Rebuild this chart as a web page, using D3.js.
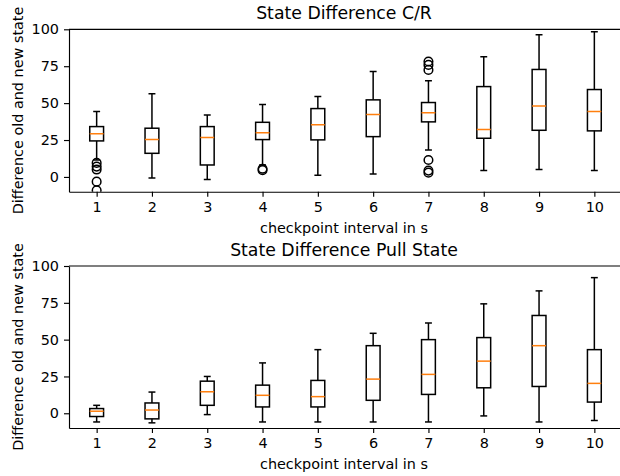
<!DOCTYPE html>
<html>
<head>
<meta charset="utf-8">
<script src="https://cdn.jsdelivr.net/npm/d3@7"></script>
<style>
  body { margin: 0; background: #fff; }
  svg text { font-family: "DejaVu Sans", sans-serif; }
</style>
</head>
<body>
<div id="chart"></div>
<script>
// checkpoint intervals (x categories)
var intervals = [1, 2, 3, 4, 5, 6, 7, 8, 9, 10];
var yTicks = [0, 25, 50, 75, 100];

// State Difference C/R
var crLow    = [11.5, -0.7, -1.8, 8.1, 1.1, 2.0, 18.3, 4.3, 5.0, 4.3];
var crQ1     = [24.4, 16.0, 8.1, 25.3, 25.1, 27.3, 37.3, 26.2, 31.6, 31.2];
var crMedian = [29.2, 25.3, 26.7, 30.0, 35.3, 42.3, 43.4, 32.1, 48.1, 44.3];
var crQ3     = [34.1, 33.0, 34.1, 37.0, 46.3, 52.2, 50.4, 61.2, 72.8, 59.2];
var crHigh   = [44.3, 56.3, 42.0, 49.0, 54.5, 71.4, 65.1, 81.4, 96.3, 98.3];
var crOutliers = [[9.5, 7, 5, -3.2, -9], [], [], [5.5, 4.6], [], [], [78.2, 75.9, 72.5, 11.5, 4.3, 2.9], [], [], []];

// State Difference Pull State
var pullLow    = [-5.9, -6.5, -0.9, -5.9, -5.9, -5.9, -5.9, -1.8, -5.9, -4.9];
var pullQ1     = [-2.2, -3.8, 5.4, 4.3, 4.3, 8.8, 12.8, 17.3, 18.2, 7.6];
var pullMedian = [1.4, 2.2, 14.6, 12.2, 11.3, 23.2, 26.4, 35.4, 45.9, 20.3];
var pullQ3     = [3.2, 7.0, 21.8, 19.1, 22.3, 45.9, 50.0, 51.4, 66.4, 43.2];
var pullHigh   = [5.4, 14.4, 25.0, 34.2, 43.2, 54.3, 61.3, 74.3, 83.1, 92.1];
var pullOutliers = [[], [], [], [], [], [], [], [], [], []];

var width = 620, height = 476;
var fontSize = 14.4;
var lw = 1.5;

var svg = d3.select("#chart").append("svg")
    .attr("width", width)
    .attr("height", height);

function toRows(low, q1, med, q3, high, outl) {
    return intervals.map(function(d, i) {
        return {x: d, low: low[i], q1: q1[i], med: med[i], q3: q3[i], high: high[i], out: outl[i]};
    });
}

function drawPanel(id, title, rows, top, bottom) {
    var left = 69, right = 622;
    var x = d3.scaleLinear().domain([0.5, 10.5]).range([left, right]);
    var y = d3.scaleLinear().domain([-10, 100]).range([bottom, top]);
    var g = svg.append("g");

    g.append("clipPath").attr("id", "clip" + id)
        .append("rect")
        .attr("x", left).attr("y", top)
        .attr("width", right - left).attr("height", bottom - top);

    var boxW = x(0.75) - x(0.5);
    var capW = x(0.625) - x(0.5);

    var marks = g.append("g").attr("clip-path", "url(#clip" + id + ")");
    var box = marks.selectAll("g.box").data(rows).enter().append("g").attr("class", "box");

    // whiskers
    box.append("line")
        .attr("x1", d => x(d.x)).attr("x2", d => x(d.x))
        .attr("y1", d => y(d.low)).attr("y2", d => y(d.q1))
        .attr("stroke", "#000").attr("stroke-width", lw);
    box.append("line")
        .attr("x1", d => x(d.x)).attr("x2", d => x(d.x))
        .attr("y1", d => y(d.q3)).attr("y2", d => y(d.high))
        .attr("stroke", "#000").attr("stroke-width", lw);
    // caps
    box.append("line")
        .attr("x1", d => x(d.x) - capW / 2).attr("x2", d => x(d.x) + capW / 2)
        .attr("y1", d => y(d.low)).attr("y2", d => y(d.low))
        .attr("stroke", "#000").attr("stroke-width", lw);
    box.append("line")
        .attr("x1", d => x(d.x) - capW / 2).attr("x2", d => x(d.x) + capW / 2)
        .attr("y1", d => y(d.high)).attr("y2", d => y(d.high))
        .attr("stroke", "#000").attr("stroke-width", lw);
    // box
    box.append("rect")
        .attr("x", d => x(d.x) - boxW / 2)
        .attr("y", d => y(d.q3))
        .attr("width", boxW)
        .attr("height", d => y(d.q1) - y(d.q3))
        .attr("fill", "none").attr("stroke", "#000").attr("stroke-width", lw);
    // median
    box.append("line")
        .attr("x1", d => x(d.x) - boxW / 2).attr("x2", d => x(d.x) + boxW / 2)
        .attr("y1", d => y(d.med)).attr("y2", d => y(d.med))
        .attr("stroke", "#ff7f0e").attr("stroke-width", lw);
    // fliers
    box.selectAll("circle").data(d => d.out.map(v => ({x: d.x, v: v}))).enter()
        .append("circle")
        .attr("cx", d => x(d.x)).attr("cy", d => y(d.v))
        .attr("r", 4.3)
        .attr("fill", "none").attr("stroke", "#000").attr("stroke-width", lw);

    // axes
    var xAxis = g.append("g")
        .attr("transform", "translate(0," + bottom + ")")
        .call(d3.axisBottom(x).tickValues(intervals).tickFormat(d3.format("d")).tickSize(5).tickPadding(5).tickSizeOuter(0));
    var yAxis = g.append("g")
        .attr("transform", "translate(" + left + ",0)")
        .call(d3.axisLeft(y).tickValues(yTicks).tickSize(5).tickPadding(5).tickSizeOuter(0));
    [xAxis, yAxis].forEach(function(a) {
        a.selectAll("text").attr("font-size", fontSize).attr("fill", "#000")
            .attr("font-family", "DejaVu Sans");
        a.select(".domain").attr("stroke", "#000").attr("stroke-width", 1.15);
        a.selectAll(".tick line").attr("stroke", "#000").attr("stroke-width", 1.15);
    });
    // top spine
    g.append("line")
        .attr("x1", left).attr("x2", right).attr("y1", top).attr("y2", top)
        .attr("stroke", "#000").attr("stroke-width", 1.15);

    g.append("text")
        .attr("x", (left + right) / 2 - 1.5).attr("y", top - 10)
        .attr("text-anchor", "middle")
        .attr("font-size", 17.3)
        .text(title);

    g.append("text")
        .attr("x", (left + right) / 2 - 1.5).attr("y", bottom + 41)
        .attr("text-anchor", "middle")
        .attr("font-size", fontSize)
        .text("checkpoint interval in s");

    g.append("text")
        .attr("transform", "translate(23," + ((top + bottom) / 2) + ")rotate(-90)")
        .attr("text-anchor", "middle")
        .attr("font-size", fontSize)
        .text("Difference old and new state");
}

drawPanel("a", "State Difference C/R",
    toRows(crLow, crQ1, crMedian, crQ3, crHigh, crOutliers), 29.3, 191.7);
drawPanel("b", "State Difference Pull State",
    toRows(pullLow, pullQ1, pullMedian, pullQ3, pullHigh, pullOutliers), 266, 428);
</script>
</body>
</html>
